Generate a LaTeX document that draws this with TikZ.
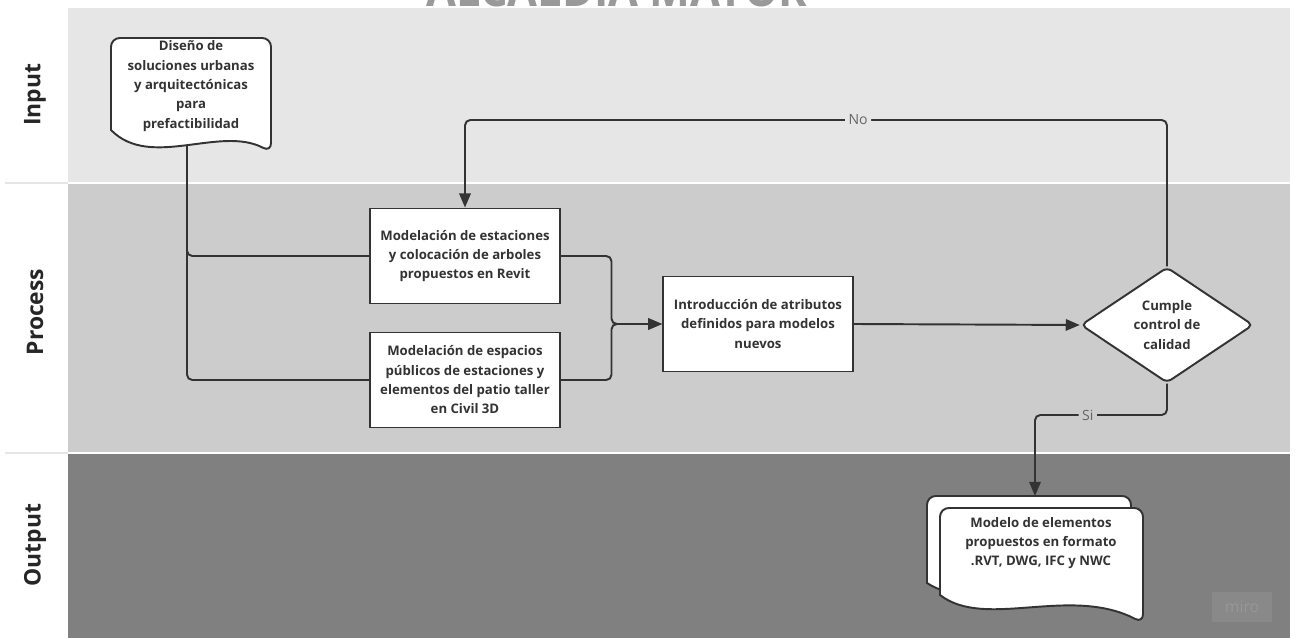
\documentclass[tikz,border=0pt]{standalone}
\usepackage{fontspec}
\setmainfont{Open Sans}
\usetikzlibrary{arrows.meta,shapes.geometric,calc}

\definecolor{laneinput}{HTML}{E6E6E6}
\definecolor{laneprocess}{HTML}{CCCCCC}
\definecolor{laneoutput}{HTML}{808080}
\definecolor{ink}{HTML}{333333}

\begin{document}
\begin{tikzpicture}[x=0.02cm,y=-0.02cm,
  box/.style={rectangle,fill=white,draw=ink,line width=1.1pt,minimum width=3.8cm,minimum height=1.9cm,
    align=center,font=\fontsize{7.5}{11}\selectfont\bfseries,text=ink},
  doctext/.style={align=center,font=\fontsize{7.5}{11}\selectfont\bfseries,text=ink},
  docline/.style={fill=white,draw=ink,line width=1.1pt},
  lane/.style={rotate=90,font=\fontsize{13}{13}\selectfont\bfseries,text=black!85},
  link/.style={draw=ink,line width=1.1pt,rounded corners=3pt},
  flow/.style={link,-{Triangle[length=8pt,width=6.5pt]}},
  lbl/.style={font=\fontsize{8}{8}\selectfont,text=black!60,inner sep=2pt}]
\useasboundingbox (0,0) rectangle (1296,638);

% swimlanes
\fill[laneinput] (68,8) rectangle (1290,183);
\fill[laneprocess] (68,183) rectangle (1290,453);
\fill[laneoutput] (68,453) rectangle (1290,638);
\draw[white,line width=0.8pt] (68,183) -- (1290,183) (68,453) -- (1290,453);
\draw[laneinput,line width=0.8pt] (5,183) -- (68,183) (5,453) -- (68,453);
\node[lane] (lin) at (35,95) {Input};
\node[lane] (lproc) at (35,312) {Process};
\node[lane] (lout) at (35,545) {Output};

% header text cut by the page edge
\begin{scope}
\clip (0,0) rectangle (1296,8);
\node[anchor=base,text=black!40,font=\fontsize{28}{28}\selectfont\bfseries,xscale=0.88] (head) at (617,7) {ALCALDIA MAYOR};
\end{scope}

% input document
\draw[docline] (111,130) [rounded corners=5pt] -- (111,38) -- (271,38) -- (271,152) [sharp corners]
  .. controls (220,125) and (150,170) .. (111,130) -- cycle;
\node[doctext] (design) at (191,86) {Diseño de\\soluciones urbanas\\y arquitectónicas\\para\\prefactibilidad};
\coordinate (designout) at (187,146);

% process steps
\node[box] (modrevit) at (465,256) {Modelación de estaciones\\y colocación de arboles\\propuestos en Revit};
\node[box] (modcivil) at (465,380) {Modelación de espacios\\públicos de estaciones y\\elementos del patio taller\\en Civil 3D};
\node[box] (intro) at (758,324) {Introducción de atributos\\definidos para modelos\\nuevos};
\node[diamond,fill=white,draw=ink,line width=1.1pt,rounded corners=3pt,minimum width=3.45cm,minimum height=2.12cm,
  inner sep=0pt,align=center,font=\fontsize{7.5}{11}\selectfont\bfseries,text=ink] (check) at (1167,325) {Cumple\\control de\\calidad};

% output documents (stacked)
\draw[docline] (927,583) [rounded corners=5pt] -- (927,496) -- (1131,496) -- (1131,600) [sharp corners]
  .. controls (1060,565) and (975,615) .. (927,583) -- cycle;
\draw[docline] (940,595) [rounded corners=5pt] -- (940,508) -- (1143,508) -- (1143,623) [sharp corners]
  .. controls (1070,585) and (985,630) .. (940,595) -- cycle;
\node[doctext] (model) at (1041,543) {Modelo de elementos\\propuestos en formato\\.RVT, DWG, IFC y NWC};
\coordinate (outtop) at (1035,496);

% connectors
\draw[link] (designout) |- (modrevit.west);
\draw[link] (designout) |- (modcivil.west);
\draw[flow] (modrevit.east) -| ($(modrevit.east)!0.5!(intro.west)$) |- (intro.west);
\draw[flow] (modcivil.east) -| ($(modcivil.east)!0.5!(intro.west)$) |- (intro.west);
\draw[flow] (intro.east) -- (check.west);
\coordinate (noy) at (0,120);
\draw[flow] (check.north) |- (noy -| modrevit.north) node[lbl,fill=laneinput,pos=0.72] {No} -- (modrevit.north);
\coordinate (siy) at (0,415);
\draw[flow] (check.south) |- (siy -| outtop) node[lbl,fill=laneprocess,pos=0.8] {Si} -- (outtop);

% miro badge
\node[fill=white,fill opacity=0.08,minimum width=1.2cm,minimum height=0.62cm,text opacity=0.12,text=white,
  font=\fontsize{9}{9}\selectfont] (badge) at (1242,607) {miro};
\end{tikzpicture}
\end{document}
